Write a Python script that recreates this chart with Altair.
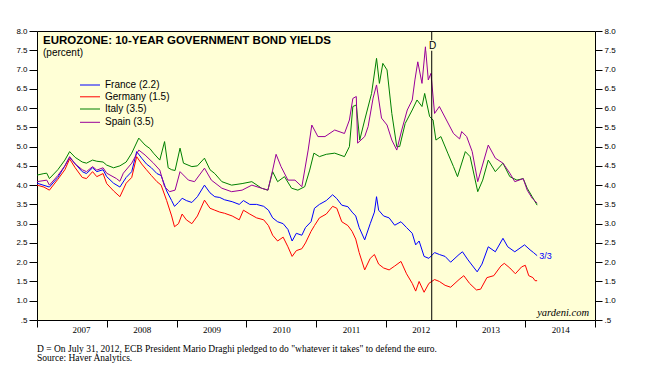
import altair as alt
import pandas as pd

# ---------------- data ----------------
series_names = ["France", "Germany", "Italy", "Spain"]
legend_labels = ["France (2.2)", "Germany (1.5)", "Italy (3.5)", "Spain (3.5)"]
series_colors = ["#0000ff", "#ff0000", "#008000", "#990099"]

# times are decimal years
germany_t = [2007.00, 2007.10, 2007.18, 2007.30, 2007.40, 2007.47, 2007.55, 2007.65, 2007.71, 2007.80,
             2007.86, 2007.95, 2008.00, 2008.10, 2008.19, 2008.28, 2008.36, 2008.43, 2008.50, 2008.57,
             2008.64, 2008.72, 2008.78, 2008.86, 2008.93, 2008.97, 2009.03, 2009.08, 2009.14, 2009.22,
             2009.30, 2009.40, 2009.48, 2009.55, 2009.62, 2009.69, 2009.80, 2009.90, 2009.96, 2010.05,
             2010.15, 2010.25, 2010.32, 2010.38, 2010.45, 2010.53, 2010.60, 2010.66, 2010.72, 2010.80,
             2010.85, 2010.93, 2010.98, 2011.05, 2011.15, 2011.24, 2011.30, 2011.37, 2011.46, 2011.52,
             2011.57, 2011.62, 2011.70, 2011.78, 2011.84, 2011.90, 2011.97, 2012.05, 2012.13, 2012.22,
             2012.30, 2012.38, 2012.43, 2012.48, 2012.55, 2012.62, 2012.70, 2012.77, 2012.85, 2012.93,
             2013.05, 2013.12, 2013.20, 2013.30, 2013.36, 2013.45, 2013.55, 2013.65, 2013.70, 2013.78,
             2013.86, 2013.95, 2014.00, 2014.05, 2014.11, 2014.14, 2014.17]
germany_v = [4.00, 3.95, 3.87, 4.15, 4.40, 4.68, 4.45, 4.20, 4.17, 4.35,
             4.22, 4.30, 4.04, 3.85, 3.70, 4.05, 4.20, 4.74, 4.55, 4.40,
             4.25, 4.09, 4.00, 3.60, 3.20, 2.92, 3.00, 3.25, 3.10, 3.00,
             3.20, 3.61, 3.40, 3.35, 3.30, 3.27, 3.20, 3.10, 3.35, 3.25,
             3.15, 3.10, 2.95, 2.70, 2.55, 2.65, 2.40, 2.15, 2.30, 2.35,
             2.50, 2.80, 2.95, 3.15, 3.25, 3.45, 3.40, 3.05, 2.95, 2.80,
             2.60, 2.25, 1.80, 2.10, 2.20, 1.95, 1.85, 1.80, 1.90, 2.02,
             1.70, 1.45, 1.25, 1.50, 1.22, 1.45, 1.55, 1.50, 1.40, 1.35,
             1.55, 1.65, 1.45, 1.28, 1.30, 1.60, 1.65, 1.90, 1.97, 1.85,
             1.70, 1.88, 1.92, 1.65, 1.60, 1.52, 1.52]

france_t = [2007.00, 2007.18, 2007.30, 2007.40, 2007.47, 2007.55, 2007.65, 2007.71, 2007.80, 2007.86,
            2007.95, 2008.00, 2008.10, 2008.19, 2008.28, 2008.36, 2008.43, 2008.50, 2008.57, 2008.64,
            2008.72, 2008.78, 2008.86, 2008.93, 2008.97, 2009.03, 2009.08, 2009.14, 2009.22, 2009.30,
            2009.40, 2009.48, 2009.55, 2009.62, 2009.69, 2009.80, 2009.90, 2009.96, 2010.05, 2010.15,
            2010.25, 2010.32, 2010.38, 2010.45, 2010.53, 2010.60, 2010.66, 2010.72, 2010.80, 2010.85,
            2010.93, 2010.98, 2011.05, 2011.15, 2011.24, 2011.30, 2011.37, 2011.46, 2011.52, 2011.57,
            2011.62, 2011.70, 2011.78, 2011.84, 2011.87, 2011.90, 2011.97, 2012.05, 2012.13, 2012.22,
            2012.30, 2012.38, 2012.43, 2012.48, 2012.55, 2012.62, 2012.70, 2012.77, 2012.85, 2012.93,
            2013.05, 2013.10, 2013.18, 2013.31, 2013.38, 2013.47, 2013.57, 2013.68, 2013.75, 2013.85,
            2013.99, 2014.07, 2014.12, 2014.17]
france_v = [4.05, 3.95, 4.20, 4.50, 4.72, 4.55, 4.35, 4.30, 4.45, 4.35,
            4.40, 4.22, 4.05, 3.95, 4.20, 4.35, 4.87, 4.70, 4.55, 4.45,
            4.30, 4.25, 3.85, 3.60, 3.45, 3.55, 3.66, 3.60, 3.55, 3.70,
            4.00, 3.80, 3.70, 3.68, 3.62, 3.57, 3.50, 3.60, 3.50, 3.50,
            3.45, 3.35, 3.15, 3.05, 3.00, 2.85, 2.55, 2.75, 2.70, 2.90,
            3.05, 3.40, 3.50, 3.60, 3.75, 3.65, 3.48, 3.44, 3.30, 3.20,
            2.90, 2.58, 3.00, 3.30, 3.70, 3.35, 3.20, 3.15, 2.96, 3.05,
            2.90, 2.75, 2.45, 2.55, 2.15, 2.10, 2.25, 2.20, 2.15, 2.00,
            2.20, 2.27, 2.06, 1.75, 1.95, 2.40, 2.27, 2.62, 2.40, 2.27,
            2.45, 2.32, 2.25, 2.17]

italy_t = [2007.00, 2007.10, 2007.14, 2007.18, 2007.30, 2007.40, 2007.47, 2007.55, 2007.65, 2007.71,
           2007.80, 2007.86, 2007.95, 2008.00, 2008.10, 2008.19, 2008.28, 2008.36, 2008.46, 2008.55,
           2008.62, 2008.67, 2008.76, 2008.83, 2008.88, 2008.93, 2008.98, 2009.05, 2009.10, 2009.22,
           2009.30, 2009.40, 2009.48, 2009.55, 2009.65, 2009.79, 2009.94, 2010.08, 2010.22, 2010.31,
           2010.38, 2010.45, 2010.55, 2010.65, 2010.74, 2010.84, 2010.91, 2010.97, 2011.05, 2011.15,
           2011.27, 2011.41, 2011.48, 2011.53, 2011.58, 2011.63, 2011.70, 2011.80, 2011.87, 2011.91,
           2011.96, 2012.02, 2012.09, 2012.16, 2012.20, 2012.28, 2012.38, 2012.45, 2012.52, 2012.56,
           2012.63, 2012.68, 2012.72, 2012.79, 2012.89, 2012.97, 2013.03, 2013.14, 2013.21, 2013.32,
           2013.39, 2013.47, 2013.57, 2013.68, 2013.78, 2013.88, 2013.97, 2014.03, 2014.10, 2014.17]
italy_v = [4.26, 4.30, 4.31, 4.17, 4.40, 4.65, 4.87, 4.72, 4.60, 4.57,
           4.65, 4.62, 4.60, 4.52, 4.45, 4.50, 4.60, 4.83, 5.22, 5.04,
           4.95, 4.83, 4.65, 5.13, 4.45, 4.40, 4.38, 4.96, 4.57, 4.48,
           4.50, 4.70, 4.40, 4.30, 4.09, 4.00, 4.04, 4.09, 3.92, 3.87,
           4.35, 4.09, 4.22, 3.92, 3.87, 3.96, 4.39, 4.83, 4.74, 4.80,
           4.83, 4.74, 5.00, 6.04, 6.08, 5.17, 5.69, 6.38, 7.29, 6.64,
           7.16, 6.99, 5.86, 5.00, 5.00, 5.60, 5.95, 6.21, 6.04, 6.38,
           5.78, 5.69, 5.17, 5.26, 4.83, 4.48, 4.22, 4.87, 4.74, 3.83,
           4.13, 4.65, 4.35, 4.57, 4.22, 4.13, 4.17, 3.92, 3.70, 3.48]

spain_t = [2007.00, 2007.14, 2007.18, 2007.30, 2007.40, 2007.47, 2007.55, 2007.65, 2007.71, 2007.80,
           2007.86, 2007.95, 2008.00, 2008.14, 2008.19, 2008.24, 2008.36, 2008.46, 2008.55, 2008.67,
           2008.76, 2008.83, 2008.90, 2008.98, 2009.05, 2009.17, 2009.26, 2009.40, 2009.50, 2009.65,
           2009.79, 2009.94, 2010.08, 2010.22, 2010.31, 2010.38, 2010.43, 2010.50, 2010.60, 2010.70,
           2010.80, 2010.89, 2010.94, 2011.03, 2011.13, 2011.27, 2011.41, 2011.48, 2011.53, 2011.58,
           2011.60, 2011.70, 2011.75, 2011.82, 2011.87, 2011.94, 2012.02, 2012.09, 2012.16, 2012.23,
           2012.31, 2012.38, 2012.42, 2012.46, 2012.52, 2012.57, 2012.61, 2012.65, 2012.70, 2012.77,
           2012.87, 2012.97, 2013.06, 2013.09, 2013.16, 2013.24, 2013.32, 2013.47, 2013.57, 2013.68,
           2013.78, 2013.85, 2013.97, 2014.03, 2014.10, 2014.17]
spain_v = [4.09, 4.13, 4.00, 4.25, 4.50, 4.74, 4.55, 4.40, 4.35, 4.48,
           4.39, 4.45, 4.31, 4.17, 4.10, 4.31, 4.57, 4.91, 4.78, 4.57,
           4.39, 3.96, 3.83, 3.87, 4.35, 4.13, 4.09, 4.44, 4.13, 3.92,
           3.83, 3.87, 4.00, 3.92, 3.87, 4.39, 4.80, 4.48, 4.13, 4.13,
           3.96, 4.91, 5.56, 5.26, 5.26, 5.43, 5.34, 5.69, 6.25, 6.30,
           5.09, 5.26, 5.52, 6.26, 6.60, 5.74, 5.56, 5.17, 4.91, 5.43,
           5.95, 6.21, 6.73, 7.20, 6.64, 7.59, 6.73, 6.90, 5.86, 6.04,
           5.69, 5.34, 5.20, 5.39, 5.26, 4.87, 4.09, 5.04, 4.70, 4.57,
           4.31, 4.09, 4.17, 3.87, 3.66, 3.53]

y_ticks = [0.5, 1.0, 1.5, 2.0, 2.5, 3.0, 3.5, 4.0, 4.5, 5.0, 5.5, 6.0, 6.5, 7.0, 7.5, 8.0]
year_ticks = [2007, 2008, 2009, 2010, 2011, 2012, 2013, 2014, 2015]
draghi_t = 2012.66

title_text = "EUROZONE: 10-YEAR GOVERNMENT BOND YIELDS"
unit_text = "(percent)"
note_line1 = 'D = On July 31, 2012, ECB President Mario Draghi pledged to do "whatever it takes" to defend the euro.'
note_line2 = "Source: Haver Analytics."
end_label = "3/3"


def to_date(y):
    yr = int(y)
    start = pd.Timestamp(year=yr, month=1, day=1)
    end = pd.Timestamp(year=yr + 1, month=1, day=1)
    return (start + (end - start) * (y - yr)).strftime("%Y-%m-%d")


rows = []
for name, ts, vs in [("France", france_t, france_v), ("Germany", germany_t, germany_v),
                     ("Italy", italy_t, italy_v), ("Spain", spain_t, spain_v)]:
    for t, v in zip(ts, vs):
        rows.append({"series": name, "date": to_date(t), "value": v})
df = pd.DataFrame(rows)

# ---------------- layout ----------------
W, H = 558, 289
BG = "#ffffd6"

xscale = alt.Scale(domain=["2007-01-01", "2015-01-01"])
yscale = alt.Scale(domain=[0.5, 8.0], nice=False, zero=False)

xaxis = alt.Axis(values=[f"{y}-01-01" for y in year_ticks], format="%Y",
                 labelExpr="year(datum.value) >= 2015 ? '' : datum.label",
                 labelOffset=35, tickSize=7, tickColor="black", domain=False,
                 labelFont="Liberation Serif", labelFontSize=9, labelColor="black",
                 labelPadding=-2, grid=False, title=None)

ylabel_expr = "datum.value == 0.5 ? '.5' : format(datum.value, '.1f')"
yaxis_left = alt.Axis(orient="left", values=y_ticks, labelExpr=ylabel_expr, tickSize=8,
                      tickColor="black", domain=False, grid=False, title=None,
                      labelFont="Liberation Sans", labelFontSize=8, labelColor="black",
                      labelPadding=2)
yaxis_right = alt.Axis(orient="right", values=y_ticks, labelExpr=ylabel_expr, tickSize=7,
                       tickColor="black", domain=False, grid=False, title=None,
                       labelFont="Liberation Sans", labelFontSize=8, labelColor="black",
                       labelPadding=2)

color = alt.Color("series:N", scale=alt.Scale(domain=series_names, range=series_colors), legend=None)

lines = alt.Chart(df).mark_line(strokeWidth=1, clip=True).encode(
    x=alt.X("date:T", scale=xscale, axis=xaxis),
    y=alt.Y("value:Q", scale=yscale, axis=yaxis_left),
    color=color,
)

right_axis = alt.Chart(df).mark_line(opacity=0).encode(
    x=alt.X("date:T", scale=xscale, axis=xaxis),
    y=alt.Y("value:Q", scale=yscale, axis=yaxis_right),
)

draghi_df = pd.DataFrame({"date": [to_date(draghi_t)]})
draghi = alt.Chart(draghi_df).mark_rule(color="black", strokeWidth=1).encode(
    x=alt.X("date:T", scale=xscale, axis=xaxis),
    y=alt.value(0), y2=alt.value(H),
)
d_bg = alt.Chart(draghi_df).mark_square(color=BG, size=110, opacity=1, filled=True).encode(
    x=alt.X("date:T", scale=xscale, axis=xaxis),
    y=alt.value(14.5),
)
d_txt = alt.Chart(draghi_df).mark_text(text="D", font="Liberation Sans", fontSize=10,
                                       color="black", dx=1).encode(
    x=alt.X("date:T", scale=xscale, axis=xaxis), y=alt.value(14.5),
)

# legend (inside plot, top-left) -- pixel rows
leg_df = pd.DataFrame({"series": series_names, "label": legend_labels,
                       "py": [54.0, 65.8, 78.0, 91.3]})
leg_y = alt.Y("py:Q", scale=None, axis=None)
leg_lines = alt.Chart(leg_df).mark_rule(strokeWidth=1).encode(
    x=alt.value(43), x2=alt.value(63), y=leg_y, color=color,
)
leg_text = alt.Chart(leg_df).mark_text(align="left", baseline="middle", font="Liberation Sans",
                                       fontSize=10, color="black").encode(
    x=alt.value(68), y=leg_y, text="label:N",
)

title = alt.Chart(pd.DataFrame({"t": [title_text]})).mark_text(
    align="left", baseline="middle", font="Liberation Sans", fontSize=11.5, fontWeight="bold",
    color="black").encode(x=alt.value(6), y=alt.value(9.5), text="t:N")
unit = alt.Chart(pd.DataFrame({"t": [unit_text]})).mark_text(
    align="left", baseline="middle", font="Liberation Sans", fontSize=10,
    color="black").encode(x=alt.value(6), y=alt.value(22), text="t:N")

end_df = pd.DataFrame({"date": [to_date(2014.17)], "value": [2.17], "t": [end_label]})
end_txt = alt.Chart(end_df).mark_text(align="left", baseline="middle", font="Liberation Sans",
                                      fontSize=9, color="#0000ff", dx=2).encode(
    x=alt.X("date:T", scale=xscale, axis=xaxis), y=alt.Y("value:Q", scale=yscale, axis=yaxis_left),
    text="t:N")

yardeni = alt.Chart(pd.DataFrame({"t": ["yardeni.com"]})).mark_text(
    align="right", baseline="middle", font="Liberation Serif", fontSize=10.5, fontStyle="italic",
    color="black").encode(x=alt.value(552), y=alt.value(282), text="t:N")

notes = alt.Chart(pd.DataFrame({"t": [note_line1, note_line2], "yy": [321.0, 329.5]})).mark_text(
    align="left", baseline="alphabetic", font="Liberation Serif", fontSize=9.5,
    color="black").encode(x=alt.value(0), y=alt.Y("yy:Q", scale=None, axis=None), text="t:N")

main = alt.layer(lines, draghi, d_bg, d_txt, end_txt, title, unit, yardeni)
overlay = alt.layer(leg_lines, leg_text, notes)
chart = alt.layer(main, right_axis, overlay).resolve_scale(y="independent").properties(
    width=W, height=H,
    autosize=alt.AutoSizeParams(type="none"),
    padding={"left": 37, "top": 31, "right": 50, "bottom": 57},
    background="white",
).configure_view(fill=BG, stroke="black", strokeWidth=1)

chart.save("out.html", embed_options={"renderer": "svg", "actions": False})
